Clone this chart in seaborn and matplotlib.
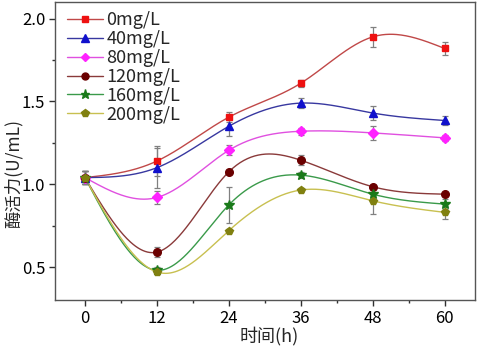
import numpy as np
import matplotlib
matplotlib.use('Agg')
import matplotlib.pyplot as plt
import seaborn as sns
from matplotlib.ticker import MultipleLocator

sns.set_style('ticks')
plt.rcParams['font.family'] = ['Noto Sans CJK SC', 'DejaVu Sans']

# data
hours = [0, 12, 24, 36, 48, 60]
labels = ['0mg/L', '40mg/L', '80mg/L', '120mg/L', '160mg/L', '200mg/L']

act_0 = [1.04, 1.14, 1.405, 1.61, 1.89, 1.82]
act_40 = [1.04, 1.10, 1.35, 1.49, 1.43, 1.385]
act_80 = [1.04, 0.92, 1.205, 1.32, 1.31, 1.28]
act_120 = [1.04, 0.59, 1.075, 1.145, 0.985, 0.94]
act_160 = [1.04, 0.48, 0.875, 1.055, 0.94, 0.88]
act_200 = [1.04, 0.47, 0.72, 0.965, 0.90, 0.83]

err_0 = [0.04, 0.09, 0.03, 0.02, 0.06, 0.04]
err_40 = [0.04, 0.12, 0.06, 0.03, 0.04, 0.03]
err_80 = [0.04, 0.04, 0.03, 0.02, 0.04, 0.02]
err_120 = [0.04, 0.03, 0.01, 0.03, 0.01, 0.01]
err_160 = [0.04, 0.02, 0.11, 0.02, 0.01, 0.03]
err_200 = [0.04, 0.01, 0.01, 0.01, 0.08, 0.04]

series = [act_0, act_40, act_80, act_120, act_160, act_200]
errors = [err_0, err_40, err_80, err_120, err_160, err_200]

marker_colors = ['#ee1111', '#1010cc', '#ff22ff', '#6a0000', '#1a7a1a', '#808010']
line_colors = ['#c04848', '#3838a0', '#e050e0', '#8a3a3a', '#3a9a4a', '#c8c050']
markers = ['s', '^', 'D', 'o', '*', 'p']
msizes = [5, 6, 5, 5.5, 7, 6]


def spline_curve(x, y, n=300):
    # natural cubic spline, just for drawing the smooth line like Origin does
    x = np.asarray(x, float)
    y = np.asarray(y, float)
    k = len(x)
    h = np.diff(x)
    A = np.zeros((k, k))
    b = np.zeros(k)
    A[0, 0] = A[-1, -1] = 1
    for i in range(1, k - 1):
        A[i, i - 1] = h[i - 1]
        A[i, i] = 2 * (h[i - 1] + h[i])
        A[i, i + 1] = h[i]
        b[i] = 6 * ((y[i + 1] - y[i]) / h[i] - (y[i] - y[i - 1]) / h[i - 1])
    m = np.linalg.solve(A, b)
    xs = np.linspace(x[0], x[-1], n)
    idx = np.clip(np.searchsorted(x, xs) - 1, 0, k - 2)
    x0, x1 = x[idx], x[idx + 1]
    hh = x1 - x0
    t0, t1 = x1 - xs, xs - x0
    ys = (m[idx] * t0 ** 3 + m[idx + 1] * t1 ** 3) / (6 * hh) \
        + (y[idx] / hh - m[idx] * hh / 6) * t0 \
        + (y[idx + 1] / hh - m[idx + 1] * hh / 6) * t1
    return xs, ys


fig, ax = plt.subplots(figsize=(4.78, 3.49), dpi=100)

for vals, errs, lab, mc, lc, mk, ms in zip(series, errors, labels, marker_colors,
                                            line_colors, markers, msizes):
    xs, ys = spline_curve(hours, vals)
    sns.lineplot(x=xs, y=ys, ax=ax, color=lc, linewidth=1.0, sort=False)
    ax.errorbar(hours, vals, yerr=errs, fmt='none', ecolor='#808080',
                elinewidth=0.9, capsize=2.5, capthick=0.9, zorder=3)
    ax.plot(hours, vals, linestyle='none', marker=mk, color=mc,
            markersize=ms, markeredgecolor=mc, zorder=4)
    # legend handle
    ax.plot([], [], color=lc, linewidth=1.0, marker=mk, markerfacecolor=mc,
            markeredgecolor=mc, markersize=ms - 0.5, label=lab)

ax.set_xlim(-5, 65)
ax.set_ylim(0.3, 2.1)
ax.set_xticks(hours)
ax.xaxis.set_minor_locator(MultipleLocator(6))
ax.yaxis.set_major_locator(MultipleLocator(0.5))
ax.yaxis.set_minor_locator(MultipleLocator(0.25))
ax.tick_params(which='major', direction='out', length=4, width=1, labelsize=12,
               colors='#303030', labelcolor='black', pad=3)
ax.tick_params(which='minor', direction='out', length=2.5, width=1, colors='#303030')
for s in ax.spines.values():
    s.set_visible(True)
    s.set_color('#555555')
    s.set_linewidth(1)

ax.set_xlabel('时间(h)', fontsize=13)
ax.set_ylabel('酶活力(U/mL)', fontsize=12.5)
ax.xaxis.set_label_coords(0.51, -0.09)
ax.yaxis.set_label_coords(-0.078, 0.426)

ax.legend(loc='upper left', frameon=False, fontsize=13, handlelength=2.0,
          handletextpad=0.15, labelspacing=0.05, borderaxespad=0.1,
          bbox_to_anchor=(0.008, 1.0))

fig.subplots_adjust(left=0.115, right=0.993, top=0.994, bottom=0.14)
fig.savefig('out.png', dpi=100)
